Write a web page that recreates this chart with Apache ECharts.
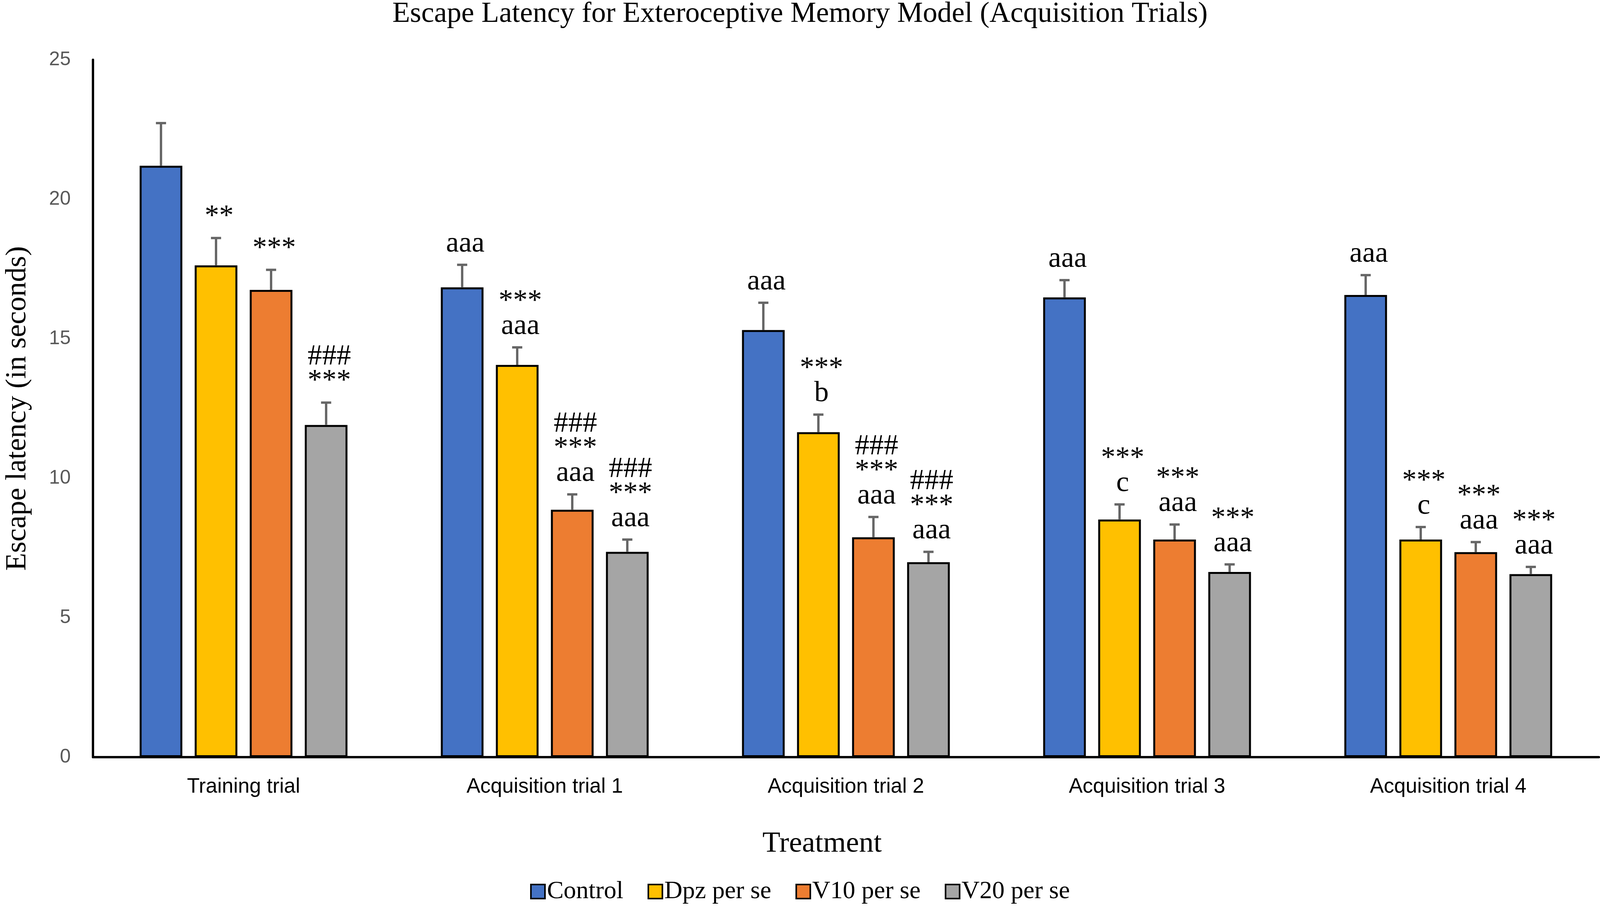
<!DOCTYPE html>
<html>
<head>
<meta charset="utf-8">
<script src="https://cdn.jsdelivr.net/npm/echarts@6/dist/echarts.min.js"></script>
<style>
  html, body { margin: 0; padding: 0; background: #fff; width: 100%; height: 100%; overflow: hidden; }
  #chart { width: 100vw; height: 100vh; }
</style>
</head>
<body>
<div id="chart"></div>
<script>
const categories = ['Training trial', 'Acquisition trial 1', 'Acquisition trial 2', 'Acquisition trial 3', 'Acquisition trial 4'];
const seriesNames = ['Control', 'Dpz per se', 'V10 per se', 'V20 per se'];
const yTicks = [0, 5, 10, 15, 20, 25];

const control = [21.20, 16.84, 15.31, 16.48, 16.57];
const dpz     = [17.63, 14.06, 11.65, 8.52, 7.80];
const v10     = [16.75, 8.87, 7.88, 7.80, 7.35];
const v20     = [11.91, 7.36, 6.99, 6.64, 6.56];

const controlErr = [1.53, 0.81, 0.98, 0.62, 0.71];
const dpzErr     = [0.98, 0.63, 0.63, 0.54, 0.45];
const v10Err     = [0.72, 0.55, 0.73, 0.54, 0.36];
const v20Err     = [0.80, 0.44, 0.37, 0.27, 0.26];

const controlMarks = ['', 'aaa', 'aaa', 'aaa', 'aaa'];
const dpzMarks     = ['**', '***\naaa', '***\nb', '***\nc', '***\nc'];
const v10Marks     = ['***', '###\n***\naaa', '###\n***\naaa', '***\naaa', '***\naaa'];
const v20Marks     = ['###\n***', '###\n***\naaa', '###\n***\naaa', '***\naaa', '***\naaa'];

const colors = ['#4472C4', '#FFC000', '#ED7D31', '#A5A5A5'];
const values = [control, dpz, v10, v20];
const errors = [controlErr, dpzErr, v10Err, v20Err];
const marks = [controlMarks, dpzMarks, v10Marks, v20Marks];

const CAT_GAP = 0.31;
const BAR_GAP = 0.29;
const SERIF = 'Liberation Serif';
const SANS = 'Liberation Sans';

const el = document.getElementById('chart');
const chart = echarts.init(el, null, { renderer: 'canvas' });
const W = el.clientWidth || 4285;

const barSeries = seriesNames.map((name, k) => ({
  name: name,
  type: 'bar',
  data: values[k],
  barCategoryGap: (CAT_GAP * 100) + '%',
  barGap: (BAR_GAP * 100) + '%',
  itemStyle: { color: colors[k], borderColor: '#000', borderWidth: 5 },
  z: 2
}));

const errSeries = seriesNames.map((name, k) => ({
  name: name + ' error',
  type: 'custom',
  z: 5,
  silent: true,
  data: categories.map((c, i) => [i, values[k][i], errors[k][i]]),
  renderItem: function (params, api) {
    const cat = api.value(0), val = api.value(1), err = api.value(2);
    const band = api.size([1, 0])[0];
    const bw = band * (1 - CAT_GAP) / (4 + 3 * BAR_GAP);
    const step = bw * (1 + BAR_GAP);
    const off = (k - 1.5) * step;
    const base = api.coord([cat, val]);
    const top = api.coord([cat, val + err]);
    const x = base[0] + off;
    const ls = { stroke: '#666666', lineWidth: 6 };
    const children = [
      { type: 'line', shape: { x1: x, y1: base[1], x2: x, y2: top[1] }, style: ls },
      { type: 'line', shape: { x1: x - 13, y1: top[1], x2: x + 13, y2: top[1] }, style: ls }
    ];
    const t = marks[k][params.dataIndex];
    if (t) {
      children.push({
        type: 'text',
        style: {
          text: t, x: x + 8, y: top[1] - 22,
          align: 'center', verticalAlign: 'bottom',
          fontFamily: SERIF, fontSize: 74, lineHeight: 63, fill: '#000'
        }
      });
    }
    return { type: 'group', children: children };
  }
}));

chart.setOption({
  animation: false,
  backgroundColor: '#ffffff',
  title: {
    text: 'Escape Latency for Exteroceptive Memory Model (Acquisition Trials)',
    left: 'center', top: 0, padding: 0,
    textStyle: { fontFamily: SERIF, fontSize: 74, fontWeight: 'normal', color: '#000' }
  },
  legend: {
    data: seriesNames,
    left: 'center', bottom: 5, padding: 0,
    itemWidth: 36, itemHeight: 36, itemGap: 62,
    icon: 'rect',
    itemStyle: { borderColor: '#000', borderWidth: 4 },
    textStyle: { fontFamily: SERIF, fontSize: 64, color: '#000' }
  },
  grid: { left: Math.round(W * 0.0542), right: 3, top: 153, bottom: 381, containLabel: false },
  xAxis: {
    type: 'category',
    data: categories,
    name: 'Treatment',
    nameLocation: 'middle',
    nameGap: 185,
    nameTextStyle: { fontFamily: SERIF, fontSize: 75, color: '#000', padding: [0, 122, 0, 0] },
    axisLine: { show: true, lineStyle: { color: '#000', width: 6 } },
    axisTick: { show: false },
    axisLabel: { fontFamily: SANS, fontSize: 53, color: '#000', margin: 50 },
    splitLine: { show: false }
  },
  yAxis: {
    type: 'value',
    min: yTicks[0], max: yTicks[yTicks.length - 1], interval: 5,
    name: 'Escape latency (in seconds)',
    nameLocation: 'middle',
    nameGap: 155,
    nameTextStyle: { fontFamily: SERIF, fontSize: 75, color: '#000' },
    axisLine: { show: true, lineStyle: { color: '#000', width: 6 } },
    axisTick: { show: false },
    axisLabel: { fontFamily: SANS, fontSize: 50, color: '#595959', margin: 57 },
    splitLine: { show: false }
  },
  series: barSeries.concat(errSeries)
});
window.addEventListener('resize', () => chart.resize());
</script>
</body>
</html>
